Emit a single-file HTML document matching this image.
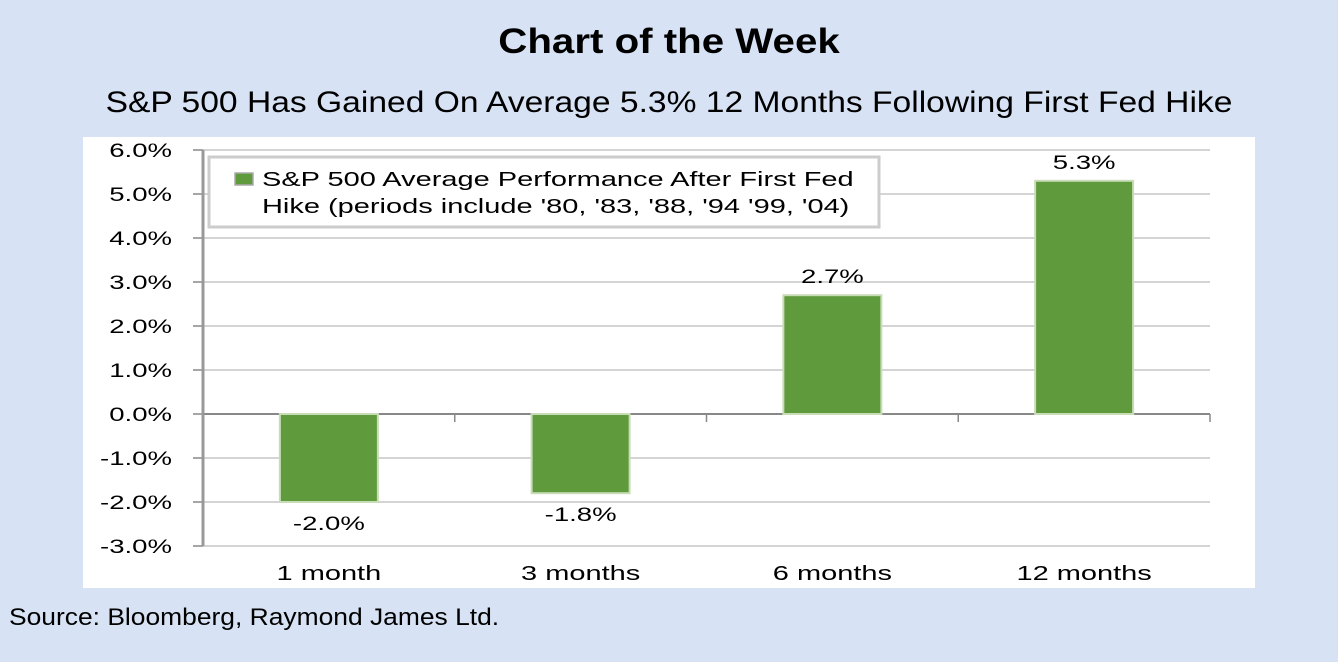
<!DOCTYPE html>
<html><head><meta charset="utf-8"><style>
body{margin:0;width:1338px;height:662px;background:#d7e3f5;font-family:"Liberation Sans",sans-serif;overflow:hidden;position:relative}
.t{position:absolute;width:1338px;text-align:center}
</style></head><body>
<div class="t" style="top:22px;font-size:35px;font-weight:bold;transform:scaleX(1.15)">Chart of the Week</div>
<div class="t" style="top:86px;font-size:30px;transform:scaleX(1.12)">S&amp;P 500 Has Gained On Average 5.3% 12 Months Following First Fed Hike</div>
<div style="position:absolute;left:9px;top:604px;font-size:24px;transform:scaleX(1.1);transform-origin:0 0">Source: Bloomberg, Raymond James Ltd.</div>
<svg id="c" width="1338" height="662" style="position:absolute;left:0;top:0">
<rect x="83" y="137" width="1172" height="451" fill="#fff"/>
</svg>
<script>
const categories=["1 month","3 months","6 months","12 months"];
const values=[-2.0,-1.8,2.7,5.3];
const labels=["-2.0%","-1.8%","2.7%","5.3%"];
const ticks=[-3,-2,-1,0,1,2,3,4,5,6];
const svg=document.getElementById('c');const NS='http://www.w3.org/2000/svg';
const x0=203,x1=1210,yTop=150,yBot=546,vMin=-3,vMax=6,SX=1.45;
const y=v=>yBot-(v-vMin)/(vMax-vMin)*(yBot-yTop);
const bw=(x1-x0)/categories.length;
function mk(t,a,txt){const e=document.createElementNS(NS,t);for(const k in a)e.setAttribute(k,a[k]);if(txt!=null)e.textContent=txt;svg.appendChild(e);return e;}
function tx(x,yy,anchor,size,s){const e=mk('text',{x:0,y:0,'text-anchor':anchor,'font-size':size,transform:`translate(${x},${yy}) scale(${SX},1)`},s);return e;}
ticks.forEach(v=>{
 const g=mk('line',{x1:x0,x2:x1,y1:y(v),y2:y(v),stroke:v===0?'#888':'#bbb','stroke-width':v===0?2:1.3});
 
 
 mk('line',{x1:x0-10,x2:x0,y1:y(v),y2:y(v),stroke:'#888','stroke-width':1.5});
 const t=tx(x0-31,y(v)+7,'end',19,v.toFixed(1)+'%');
 
 
});
mk('line',{x1:x0,x2:x0,y1:yTop,y2:yBot,stroke:'#999','stroke-width':3});
for(let i=1;i<=categories.length;i++)mk('line',{x1:x0+i*bw,x2:x0+i*bw,y1:y(0),y2:y(0)+8,stroke:'#888','stroke-width':1.5});
categories.forEach((c,i)=>{
 const cx=x0+bw*(i+0.5),v=values[i];
 const r=mk('rect',{x:cx-49,y:Math.min(y(v),y(0)),width:98,height:Math.abs(y(v)-y(0)),fill:'#5f9a3c',stroke:'#c9dcb8','stroke-width':2});
 
 
 const l=tx(cx,v>=0?y(v)-12:y(v)+28,'middle',19,labels[i]);
 
 
 const xl=tx(cx,580,'middle',20,c);
 
 
});
const lg=mk('rect',{x:209,y:157,width:670,height:70,fill:'#fff',stroke:'#ccc','stroke-width':3});


mk('rect',{x:235,y:173,width:18,height:12,fill:'#5f9a3c',stroke:'#aaa','stroke-width':1.5});
const l1=tx(262,186,'start',20,"S&P 500 Average Performance After First Fed");


tx(262,213,'start',20,"Hike (periods include '80, '83, '88, '94 '99, '04)");
</script>
</body></html>
